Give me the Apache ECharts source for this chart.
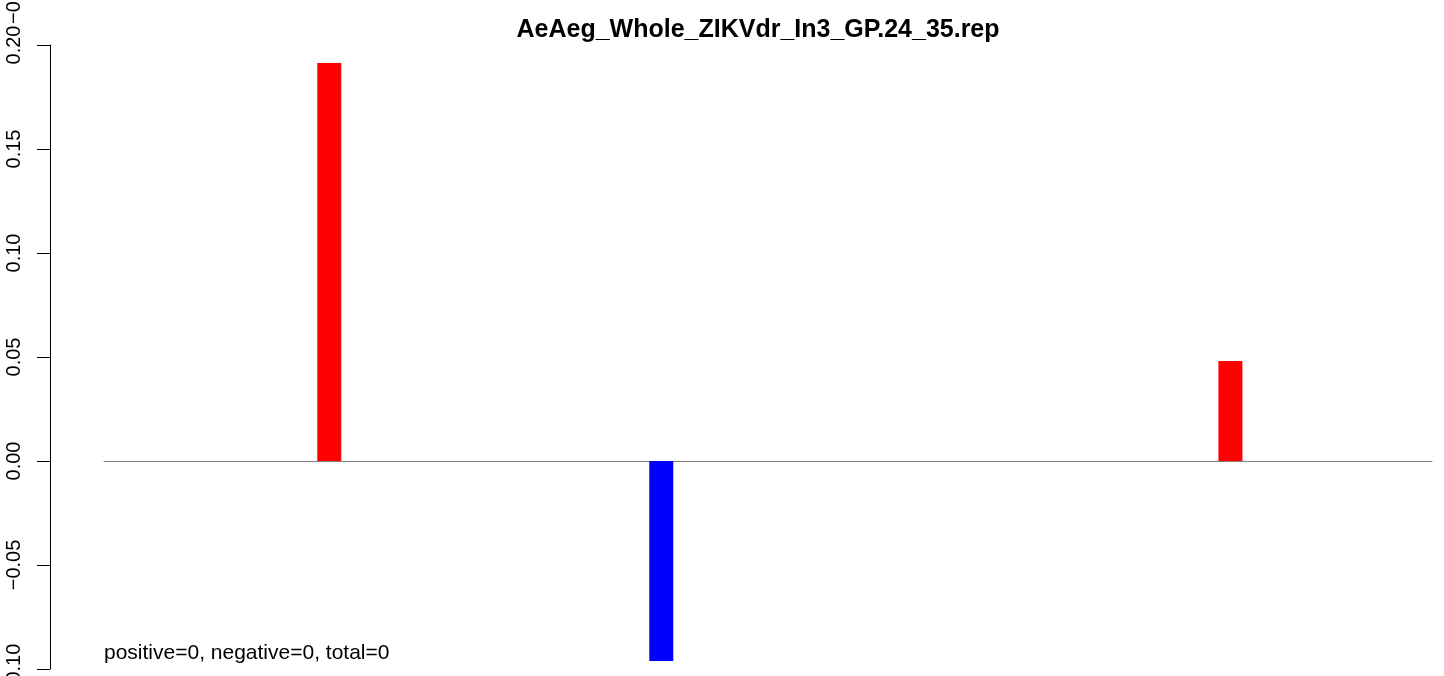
<!DOCTYPE html>
<html>
<head>
<meta charset="utf-8">
<script src="https://cdn.jsdelivr.net/npm/echarts@6/dist/echarts.min.js"></script>
<style>html,body{margin:0;padding:0;background:#fff;}#chart{width:1444px;height:676px;}</style>
</head>
<body>
<div id="chart"></div>
<script>
var titleText = 'AeAeg_Whole_ZIKVdr_In3_GP.24_35.rep';
var noteText = 'positive=0, negative=0, total=0';
var yTicks = [-0.10, -0.05, 0.00, 0.05, 0.10, 0.15, 0.20];
var values = [
  0, 0, 0, 0, 0, 0, 0, 0, 0, 0.1913,
  0, 0, 0, 0, 0, 0, 0, 0, 0, 0,
  0, 0, 0, -0.0962, 0, 0, 0, 0, 0, 0,
  0, 0, 0, 0, 0, 0, 0, 0, 0, 0,
  0, 0, 0, 0, 0, 0, 0, 0.0481, 0, 0,
  0, 0, 0, 0, 0, 0
];
var categories = values.map(function (v, i) { return String(i + 1); });

var chart = echarts.init(document.getElementById('chart'));
var font = 'Liberation Sans, Arial, Helvetica, sans-serif';
chart.setOption({
  animation: false,
  backgroundColor: '#ffffff',
  title: {
    text: titleText,
    left: 753,
    top: 13,
    textAlign: 'center',
    textStyle: { fontFamily: font, fontSize: 25, fontWeight: 'bold', color: '#000' }
  },
  grid: { left: 104, right: 12, top: 45, bottom: 7, containLabel: false, outerBoundsMode: 'none' },
  xAxis: {
    type: 'category',
    data: categories,
    boundaryGap: true,
    axisLine: { show: true, onZero: true, lineStyle: { color: '#808080', width: 1 } },
    axisTick: { show: false },
    axisLabel: { show: false },
    splitLine: { show: false }
  },
  yAxis: {
    type: 'value',
    min: yTicks[0],
    max: yTicks[yTicks.length - 1],
    interval: 0.05,
    offset: 54,
    axisLine: { show: true, lineStyle: { color: '#000', width: 1 } },
    axisTick: { show: true, length: 13, lineStyle: { color: '#000', width: 1 } },
    splitLine: { show: false },
    axisLabel: {
      rotate: 90,
      margin: 26,
      hideOverlap: false,
      showMinLabel: true,
      showMaxLabel: true,
      fontFamily: font,
      fontSize: 20,
      color: '#000',
      formatter: function (v) {
        var s = Math.abs(v).toFixed(2);
        return (v < -1e-9 ? '\u2212' : '') + s;
      }
    }
  },
  graphic: [
    {
      type: 'text',
      left: 104,
      top: 643,
      style: { text: noteText, fontFamily: font, fontSize: 21, fill: '#000' }
    },
    {
      type: 'text',
      x: 4,
      y: 24,
      rotation: Math.PI / 2,
      style: { text: '\u22120', fontFamily: font, fontSize: 20, fill: '#000', align: 'left', verticalAlign: 'top' }
    }
  ],
  series: [{
    type: 'bar',
    data: values,
    barWidth: 24,
    itemStyle: {
      color: function (p) { return p.value < 0 ? '#0000ff' : '#ff0000'; }
    }
  }]
});
</script>
</body>
</html>
